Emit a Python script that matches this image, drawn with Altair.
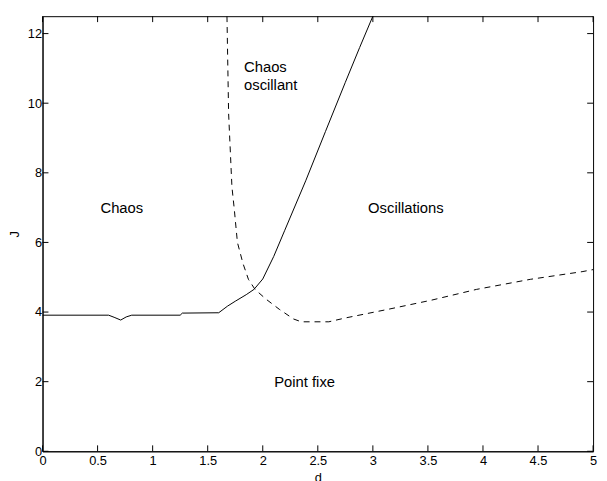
import altair as alt
import pandas as pd

# --- data ---
solid_d = [0, 0.6, 0.65, 0.71, 0.76, 0.81, 1.25, 1.27, 1.6, 1.68, 1.75, 1.85, 1.92, 2.0, 2.1, 2.2, 2.39, 2.57, 2.75, 2.88, 3.0]
solid_J = [3.91, 3.91, 3.85, 3.77, 3.86, 3.91, 3.91, 3.97, 3.98, 4.17, 4.31, 4.5, 4.65, 4.95, 5.6, 6.35, 7.77, 9.19, 10.6, 11.6, 12.5]

dashed_d = [1.675, 1.69, 1.72, 1.74, 1.77, 1.82, 1.87, 1.93, 2.03, 2.15, 2.28, 2.35, 2.6, 2.75, 3.14, 3.53, 3.94, 4.43, 4.9, 5.0]
dashed_J = [12.5, 9.7, 7.6, 7.0, 6.0, 5.4, 4.94, 4.65, 4.37, 4.08, 3.8, 3.72, 3.72, 3.83, 4.08, 4.34, 4.65, 4.94, 5.16, 5.22]

label_text = ["Chaos", "Oscillations", "Point fixe"]
label_d = [0.72, 3.30, 2.38]
label_J = [7.0, 7.0, 2.0]

left_text = ["Chaos", "oscillant"]
left_d = [1.83, 1.83]
left_J = [11.03, 10.52]

x_ticks = [0, 0.5, 1, 1.5, 2, 2.5, 3, 3.5, 4, 4.5, 5]
y_ticks = [0, 2, 4, 6, 8, 10, 12]

W, H = 558, 441
FONT = "Liberation Sans"

solid = pd.DataFrame({"d": solid_d, "J": solid_J, "i": range(len(solid_d))})
dashed = pd.DataFrame({"d": dashed_d, "J": dashed_J, "i": range(len(dashed_d))})
labels = pd.DataFrame({"d": label_d, "J": label_J, "t": label_text})
lefts = pd.DataFrame({"d": left_d, "J": left_J, "t": left_text})
xt = pd.DataFrame({"d": x_ticks})
yt = pd.DataFrame({"J": y_ticks})

xscale = alt.Scale(domain=[0, 5], nice=False, zero=False)
yscale = alt.Scale(domain=[0, 12.5], nice=False, zero=False)

xaxis = alt.Axis(values=x_ticks, title="d", ticks=False, grid=False, labelPadding=3, format="~g",
                 labelFlush=False, labelOverlap=False, titlePadding=5)
yaxis = alt.Axis(values=y_ticks, title="J", ticks=False, grid=False, labelPadding=1, format="~g",
                 labelOverlap=False, titlePadding=6)

X = alt.X("d:Q", scale=xscale, axis=xaxis)
Y = alt.Y("J:Q", scale=yscale, axis=yaxis)

solid_line = alt.Chart(solid).mark_line(color="black", strokeWidth=1, clip=True).encode(
    x=X, y=Y, order="i:Q")
dashed_line = alt.Chart(dashed).mark_line(color="black", strokeWidth=1, strokeDash=[6, 5], clip=True).encode(
    x=alt.X("d:Q", scale=xscale), y=alt.Y("J:Q", scale=yscale), order="i:Q")

txt = alt.Chart(labels).mark_text(font=FONT, fontSize=15, color="black", align="center", baseline="middle").encode(
    x=alt.X("d:Q", scale=xscale), y=alt.Y("J:Q", scale=yscale), text="t:N")
txt2 = alt.Chart(lefts).mark_text(font=FONT, fontSize=15, color="black", align="left", baseline="middle").encode(
    x=alt.X("d:Q", scale=xscale), y=alt.Y("J:Q", scale=yscale), text="t:N")

TL = 6
bt = alt.Chart(xt).mark_rule(color="black", strokeWidth=1).encode(
    x=alt.X("d:Q", scale=xscale), y=alt.value(H), y2=alt.value(H - TL))
tt = alt.Chart(xt).mark_rule(color="black", strokeWidth=1).encode(
    x=alt.X("d:Q", scale=xscale), y=alt.value(0), y2=alt.value(TL))
lt = alt.Chart(yt).mark_rule(color="black", strokeWidth=1).encode(
    y=alt.Y("J:Q", scale=yscale), x=alt.value(0), x2=alt.value(TL))
rt = alt.Chart(yt).mark_rule(color="black", strokeWidth=1).encode(
    y=alt.Y("J:Q", scale=yscale), x=alt.value(W), x2=alt.value(W - TL))

chart = alt.layer(solid_line, dashed_line, txt, txt2, bt, tt, lt, rt).properties(
    width=W, height=H,
    autosize=alt.AutoSizeParams(type="none"),
    padding={"left": 35, "top": 5, "right": 6, "bottom": 40},
    background="white",
).configure_view(stroke="black", strokeWidth=1).configure_axis(
    labelFont=FONT, labelFontSize=13, labelColor="black",
    titleFont=FONT, titleFontSize=13, titleColor="black", titleFontWeight="normal",
    domainColor="black", domainWidth=1,
)

chart.save("out.html", embed_options={"renderer": "svg", "actions": False})
